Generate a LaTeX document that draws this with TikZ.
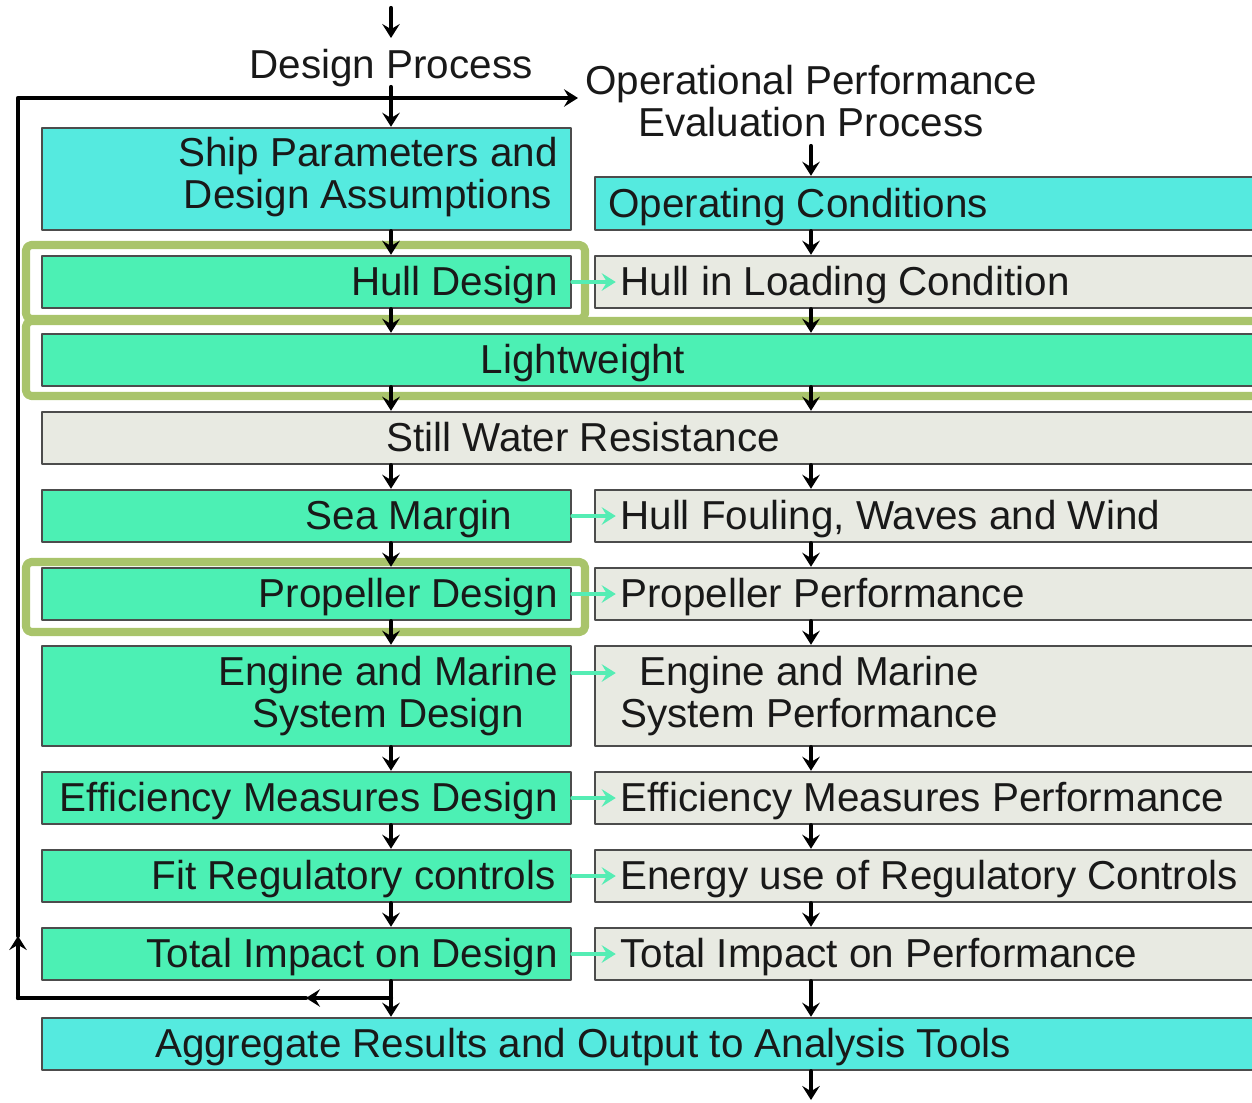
\documentclass[tikz,border=0pt]{standalone}
\usepackage{fontspec}
\setmainfont{Liberation Sans}
\usetikzlibrary{arrows.meta,fit}
\definecolor{cyanbox}{HTML}{55EADF}
\definecolor{greenbox}{HTML}{4CF0B4}
\definecolor{greybox}{HTML}{E8EAE2}
\definecolor{olivehl}{HTML}{A9C46B}
\definecolor{greenarr}{HTML}{55EDB4}
\tikzset{
	box/.style={draw=black!70, line width=1.4pt, inner sep=0pt, rectangle},
	cbox/.style={box, fill=cyanbox},
	gbox/.style={box, fill=greenbox},
	ebox/.style={box, fill=greybox},
	txt/.style={inner sep=0pt, text=black!90, font=\fontsize{23}{23.5}\selectfont, align=center},
	flow/.style={->, line width=2.4pt},
	link/.style={-{Stealth[length=8pt,width=10pt,inset=3pt]}, line width=2.2pt, draw=greenarr},
	hilite/.style={draw=olivehl, line width=4.6pt, rounded corners=3pt},
}
\newcommand{\flowbox}[6]{\node[#1, fit={(#3,#4) (#5,#6)}] (#2) {};}
\begin{document}
\begin{tikzpicture}[x=0.02cm, y=-0.02cm, >={Stealth[length=8pt,width=10pt,inset=3pt]}, line cap=round, line join=round]
			\useasboundingbox (0,0) rectangle (1252,1103);
			\coordinate (dcol) at (391,0);
			\coordinate (ocol) at (811,0);
			% highlighted steps
			\draw[hilite] (26,245) rectangle (585,319);
			\draw[hilite] (26,321) rectangle (1275,396);
			\draw[hilite] (26,562) rectangle (585,632);
			% boxes
			\flowbox{cbox}{ship}{42}{128}{571}{230}
			\flowbox{cbox}{opcond}{595}{177}{1262}{230}
			\flowbox{gbox}{hull}{42}{256}{571}{308}
			\flowbox{ebox}{hullload}{595}{256}{1262}{308}
			\flowbox{gbox}{light}{42}{334}{1262}{386}
			\flowbox{ebox}{still}{42}{412}{1262}{464}
			\flowbox{gbox}{sea}{42}{490}{571}{542}
			\flowbox{ebox}{foul}{595}{490}{1262}{542}
			\flowbox{gbox}{prop}{42}{568}{571}{620}
			\flowbox{ebox}{propperf}{595}{568}{1262}{620}
			\flowbox{gbox}{engine}{42}{646}{571}{746}
			\flowbox{ebox}{engperf}{595}{646}{1262}{746}
			\flowbox{gbox}{eff}{42}{772}{571}{824}
			\flowbox{ebox}{effperf}{595}{772}{1262}{824}
			\flowbox{gbox}{reg}{42}{850}{571}{902}
			\flowbox{ebox}{regperf}{595}{850}{1262}{902}
			\flowbox{gbox}{total}{42}{928}{571}{980}
			\flowbox{ebox}{totperf}{595}{928}{1262}{980}
			\flowbox{cbox}{aggr}{42}{1018}{1262}{1070}
			% texts (two-line ones sit on their last baseline)
			\node[txt, anchor=base] (dp-t) at (391,78) {Design Process};
			\node[txt, anchor=base] (op-t) at (811,136) {Operational Performance\\Evaluation Process};
			\node[txt, anchor=base] (ship-t) at (368,208) {Ship Parameters and\\Design Assumptions};
			\node[txt, anchor=base west] (opcond-t) at (608,217) {Operating Conditions};
			\node[txt, anchor=base east] (hull-t) at (558,295) {Hull Design};
			\node[txt, anchor=base west] (hullload-t) at (620,295) {Hull in Loading Condition};
			\node[txt, anchor=base] (light-t) at (583,373) {Lightweight};
			\node[txt, anchor=base] (still-t) at (583,451) {Still Water Resistance};
			\node[txt, anchor=base] (sea-t) at (409,529) {Sea Margin};
			\node[txt, anchor=base west] (foul-t) at (620,529) {Hull Fouling, Waves and Wind};
			\node[txt, anchor=base east] (prop-t) at (558,607) {Propeller Design};
			\node[txt, anchor=base west] (propperf-t) at (620,607) {Propeller Performance};
			\node[txt, anchor=base] (engine-t) at (388,727) {Engine and Marine\\System Design};
			\node[txt, anchor=base] (engperf-t) at (809,727) {Engine and Marine\\System Performance};
			\node[txt, anchor=base east] (eff-t) at (558,811) {Efficiency Measures Design};
			\node[txt, anchor=base west] (effperf-t) at (620,811) {Efficiency Measures Performance};
			\node[txt, anchor=base east] (reg-t) at (556,889) {Fit Regulatory controls};
			\node[txt, anchor=base west] (regperf-t) at (620,889) {Energy use of Regulatory Controls};
			\node[txt, anchor=base east] (total-t) at (558,967) {Total Impact on Design};
			\node[txt, anchor=base west] (totperf-t) at (620,967) {Total Impact on Performance};
			\node[txt, anchor=base] (aggr-t) at (583,1057) {Aggregate Results and Output to Analysis Tools};
			% loop back to the start
			\coordinate (dtop) at (391,8);
			\coordinate (dtip) at (391,38);
			\coordinate (dstart) at (391,87);
			\coordinate (loopjoin) at (391,998);
			\coordinate (looparrow) at (306,998);
			\coordinate (loopbl) at (18,998);
			\coordinate (loopup) at (18,936);
			\coordinate (loopcorner) at (18,98);
			\coordinate (loopend) at (578,98);
			\coordinate (otop) at (811,146);
			\coordinate (obot) at (811,1100);
			\draw[flow] (dtop) -- (dtip);
			\draw[flow] (loopjoin) -- (looparrow);
			\draw[line width=2.4pt] (looparrow) -- (loopbl);
			\draw[flow] (loopbl) -- (loopup);
			\draw[flow] (loopup) -- (loopcorner) -- (loopend);
			\draw[flow] (dstart) -- (ship.north -| dcol);
			\draw[flow] (otop) -- (opcond.north -| ocol);
			\draw[flow] (aggr.south -| ocol) -- (obot);
			% the two columns
			\foreach \a/\b in {ship/hull, hull/light, light/still, still/sea, sea/prop, prop/engine, engine/eff, eff/reg, reg/total, total/aggr}
				\draw[flow] (\a.south -| dcol) -- (\b.north -| dcol);
			\foreach \a/\b in {opcond/hullload, hullload/light, light/still, still/foul, foul/propperf, propperf/engperf, engperf/effperf, effperf/regperf, regperf/totperf, totperf/aggr}
				\draw[flow] (\a.south -| ocol) -- (\b.north -| ocol);
			% design feeds performance
			\foreach \a/\b in {hull/hullload, sea/foul, prop/propperf, eff/effperf, reg/regperf, total/totperf}
				\draw[link] (\a.east) -- ([xshift=0.44cm]\b.west);
			\draw[link] ([yshift=0.46cm]engine.east) -- ([xshift=0.44cm, yshift=0.46cm]engperf.west);
		\end{tikzpicture}
\end{document}
